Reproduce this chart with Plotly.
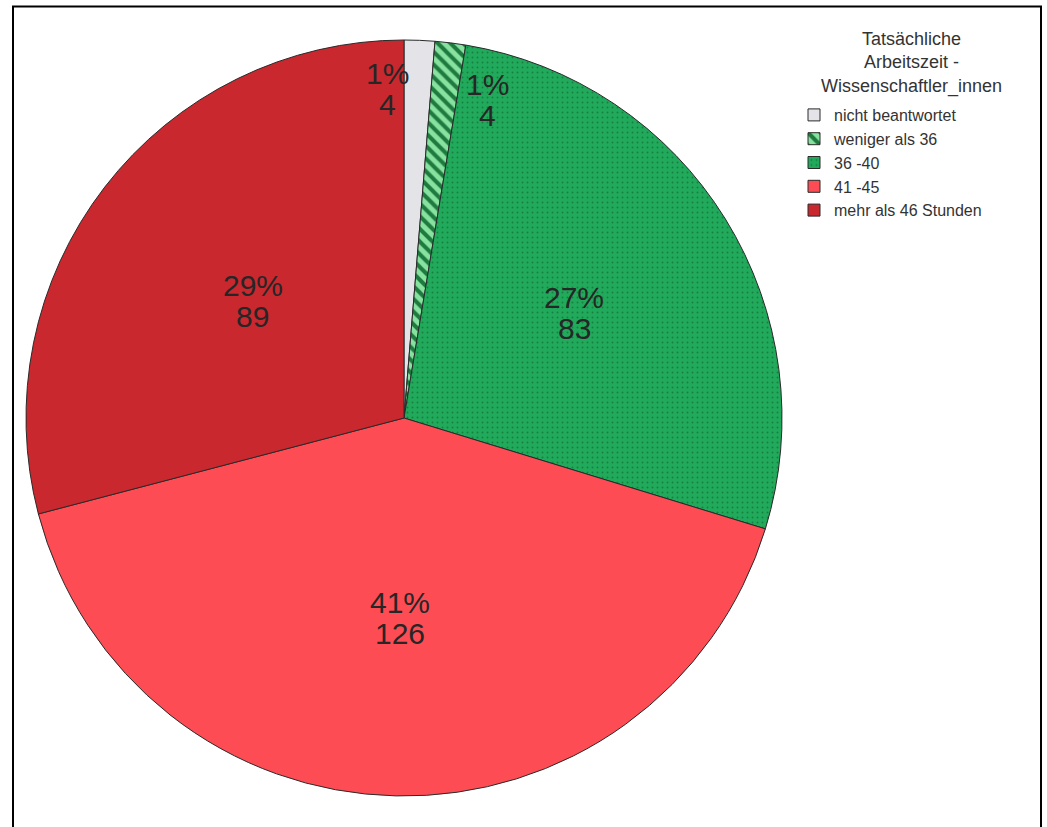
import math
import plotly.graph_objects as go

# Tatsächliche Arbeitszeit – Wissenschaftler_innen (Anzahl je Kategorie)
categories = ["nicht beantwortet", "weniger als 36", "36 -40", "41 -45", "mehr als 46 Stunden"]
counts = [4, 4, 83, 126, 89]
legend_title = "Tatsächliche<br>Arbeitszeit -<br>Wissenschaftler_innen"

colors = ["#e4e4e8", "#86e29e", "#22aa5c", "#fd4c54", "#c9282f"]
pattern_shapes = ["", "\\", ".", "", ""]
pattern_fg = ["#e4e4e8", "#1f7a40", "#16803f", "#fd4c54", "#c9282f"]
pattern_size = [8, 9, 5, 8, 8]
pattern_solidity = [0.3, 0.45, 0.12, 0.3, 0.3]

W, H = 1047, 827
CX, CY, R = 404, 418, 378  # pie centre / radius in pixels

dom_x = [(CX - R) / W, (CX + R) / W]
dom_y = [1 - (CY + R) / H, 1 - (CY - R) / H]

FONT = "Liberation Sans, Arial, sans-serif"

fig = go.Figure()
fig.add_trace(go.Pie(
    labels=categories,
    values=counts,
    sort=False,
    direction="clockwise",
    rotation=0,
    textinfo="none",
    hoverinfo="label+value+percent",
    domain=dict(x=dom_x, y=dom_y),
    marker=dict(
        colors=colors,
        line=dict(color="#2a2a2a", width=1),
        pattern=dict(
            shape=pattern_shapes,
            fgcolor=pattern_fg,
            bgcolor=colors,
            size=pattern_size,
            solidity=pattern_solidity,
        ),
    ),
))

# slice labels: percentage over count, placed along each slice's mid-angle
label_radius = [0.87, 0.87, 0.53, 0.53, 0.505]
label_xshift = [-30, 43, 0, 0, 0]
label_yshift = [0, -8, 0, 0, 0]
total = sum(counts)
cum = 0
annotations = []
for i, v in enumerate(counts):
    mid = (cum + v / 2) / total * 2 * math.pi
    cum += v
    px = CX + label_radius[i] * R * math.sin(mid)
    py = CY - label_radius[i] * R * math.cos(mid)
    pct = f"{round(v / total * 100)}%"
    for txt, dy in ((pct, 15.5), (str(v), -15.5)):
        annotations.append(dict(
            x=px / W, y=1 - py / H, xref="paper", yref="paper",
            text=txt, showarrow=False,
            xanchor="center", yanchor="middle",
            xshift=label_xshift[i], yshift=label_yshift[i] + dy,
            font=dict(family=FONT, size=30, color="#262626"),
        ))

# centred legend heading
annotations.append(dict(
    x=911 / W, y=1 - 27 / H, xref="paper", yref="paper",
    text=legend_title, showarrow=False, align="center",
    xanchor="center", yanchor="top",
    font=dict(family=FONT, size=18, color="#333333"),
))

fig.update_layout(
    width=W, height=H,
    margin=dict(l=0, r=0, t=0, b=0),
    paper_bgcolor="white",
    plot_bgcolor="white",
    annotations=annotations,
    legend=dict(
        x=794 / W, y=1 - 98 / H, xanchor="left", yanchor="top",
        font=dict(family=FONT, size=16, color="#333333"),
        itemwidth=30,
        bgcolor="rgba(0,0,0,0)",
        tracegroupgap=0,
    ),
    shapes=[dict(
        type="rect", xref="paper", yref="paper",
        x0=13 / W, x1=1041 / W, y0=-0.02, y1=1 - 6.5 / H,
        line=dict(color="black", width=2),
        fillcolor="rgba(0,0,0,0)",
    )],
)

fig.write_html("out.html")
